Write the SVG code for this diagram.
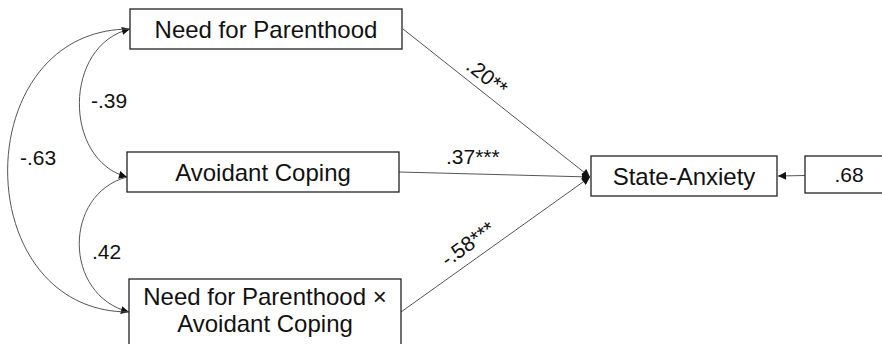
<svg xmlns="http://www.w3.org/2000/svg" width="882" height="344" viewBox="0 0 882 344">
<style>
.box{fill:#fff;stroke:#222;stroke-width:1.3}
.t{font-family:"Liberation Sans",Arial,sans-serif;font-size:24px;fill:#111;text-anchor:middle}
.l{font-family:"Liberation Sans",Arial,sans-serif;font-size:21px;fill:#111}
.c{fill:none;stroke:#555;stroke-width:1}
</style>
<defs>
<marker id="ah" viewBox="0 0 10 10" refX="10" refY="5" markerWidth="9" markerHeight="8" markerUnits="userSpaceOnUse" orient="auto-start-reverse">
<path d="M0,0 L10,5 L0,10 z" fill="#111"/>
</marker>
</defs>
<rect x="0" y="0" width="882" height="344" fill="#fff"/>
<g id="connectors">
<path class="c" d="M403,29 L590,177" marker-end="url(#ah)"/>
<path class="c" d="M399,172 L590,177" marker-end="url(#ah)"/>
<path class="c" d="M401,312 L590,177" marker-end="url(#ah)"/>
<path class="c" d="M805,175.5 L778,176" marker-end="url(#ah)"/>
<path class="c" d="M127,177 C63,160 63,45 130,29" marker-start="url(#ah)" marker-end="url(#ah)"/>
<path class="c" d="M127,177 C63,194 63,295 129,312" marker-end="url(#ah)"/>
<path class="c" d="M130,29 C-33,29 -33,312 129,312"/>
<text class="l" x="91" y="108">-.39</text>
<text class="l" x="20" y="165">-.63</text>
<text class="l" x="92" y="259">.42</text>
<text class="l" x="446" y="164">.37***</text>
<text class="l" text-anchor="middle" transform="translate(487,77) rotate(38.5)" x="0" y="7">.20**</text>
<text class="l" text-anchor="middle" transform="translate(468,244) rotate(-35.6)" x="0" y="7">-.58***</text>
</g>
<g id="need">
<rect class="box" x="130" y="9" width="272" height="40"/>
<text class="t" x="266" y="38">Need for Parenthood</text>
</g>
<g id="avoid">
<rect class="box" x="127" y="152" width="272" height="40"/>
<text class="t" x="263" y="181">Avoidant Coping</text>
</g>
<g id="interaction">
<rect class="box" x="129" y="279" width="272" height="80"/>
<text class="t" x="265" y="305">Need for Parenthood ×</text>
<text class="t" x="265" y="332">Avoidant Coping</text>
</g>
<g id="anxiety">
<rect class="box" x="591" y="156" width="186" height="40"/>
<text class="t" x="684" y="185">State-Anxiety</text>
</g>
<g id="error">
<rect class="box" x="805" y="156" width="100" height="37"/>
<text class="l" x="849" y="182" text-anchor="middle">.68</text>
</g>
</svg>
